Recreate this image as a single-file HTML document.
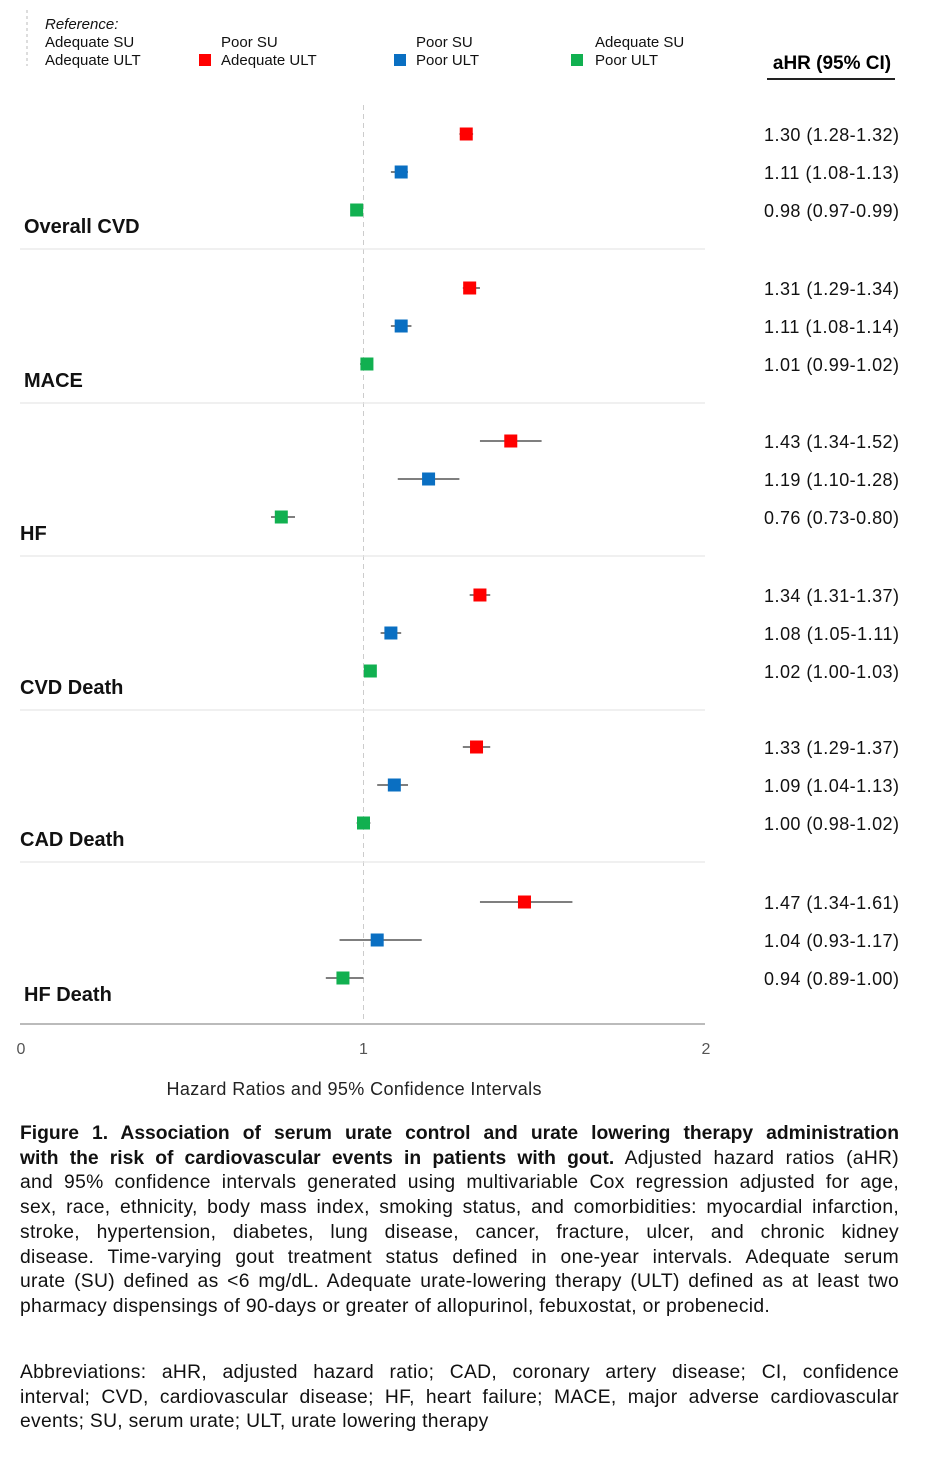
<!DOCTYPE html>
<html><head><meta charset="utf-8"><style>
body{margin:0;background:#fff;width:936px;height:1458px;overflow:hidden;font-family:"Liberation Sans",Arial,sans-serif;position:relative}
svg{position:absolute;left:0;top:0}
.cap{position:absolute;left:20px;width:879px;font-size:19.3px;line-height:24.7px;color:#111;margin:0;letter-spacing:0.3px}
.cap span{display:block;white-space:nowrap;text-align:justify;text-align-last:justify}
.cap span.last{text-align-last:left}
</style></head><body>
<svg id="chart" width="936" height="1110" font-family="Liberation Sans, Arial, sans-serif">
<g font-size="15" fill="#111">
<line x1="27" y1="10" x2="27" y2="66" stroke="#bbb" stroke-dasharray="3,3"/>
<text x="45" y="29" font-style="italic">Reference:</text>
<text x="45" y="47">Adequate SU</text><text x="45" y="65">Adequate ULT</text>
<text x="221" y="47">Poor SU</text><text x="221" y="65">Adequate ULT</text>
<rect x="199" y="54" width="12" height="12" fill="#ff0000"/>
<text x="416" y="47">Poor SU</text><text x="416" y="65">Poor ULT</text>
<rect x="394" y="54" width="12" height="12" fill="#0a6fc2"/>
<text x="595" y="47">Adequate SU</text><text x="595" y="65">Poor ULT</text>
<rect x="571" y="54" width="12" height="12" fill="#11b050"/>
</g>
<text x="832" y="69" text-anchor="middle" font-size="19" font-weight="bold">aHR (95% CI)</text>
<line x1="767" y1="79" x2="895" y2="79" stroke="#222" stroke-width="2"/>
<g id="plot"></g>
<text x="354" y="1095" text-anchor="middle" font-size="18" textLength="375" fill="#222">Hazard Ratios and 95% Confidence Intervals</text>
</svg>
<div class="cap" style="top:1122px">
<span><b style="letter-spacing:0">Figure 1. Association of serum urate control and urate lowering therapy administration</b></span>
<span><b style="letter-spacing:0">with the risk of cardiovascular events in patients with gout.</b> Adjusted hazard ratios (aHR)</span>
<span>and 95% confidence intervals generated using multivariable Cox regression adjusted for age,</span>
<span>sex, race, ethnicity, body mass index, smoking status, and comorbidities: myocardial infarction,</span>
<span>stroke, hypertension, diabetes, lung disease, cancer, fracture, ulcer, and chronic kidney</span>
<span>disease. Time-varying gout treatment status defined in one-year intervals. Adequate serum</span>
<span>urate (SU) defined as &lt;6 mg/dL. Adequate urate-lowering therapy (ULT) defined as at least two</span>
<span class="last">pharmacy dispensings of 90-days or greater of allopurinol, febuxostat, or probenecid.</span>
</div>
<div class="cap" style="top:1361px">
<span>Abbreviations: aHR, adjusted hazard ratio; CAD, coronary artery disease; CI, confidence</span>
<span>interval; CVD, cardiovascular disease; HF, heart failure; MACE, major adverse cardiovascular</span>
<span class="last">events; SU, serum urate; ULT, urate lowering therapy</span>
</div>
<script>
const outcomes=["Overall CVD","MACE","HF","CVD Death","CAD Death","HF Death"];
const seriesNames=["Poor SU / Adequate ULT","Poor SU / Poor ULT","Adequate SU / Poor ULT"];
const hr=[[1.30,1.11,0.98],[1.31,1.11,1.01],[1.43,1.19,0.76],[1.34,1.08,1.02],[1.33,1.09,1.00],[1.47,1.04,0.94]];
const lo=[[1.28,1.08,0.97],[1.29,1.08,0.99],[1.34,1.10,0.73],[1.31,1.05,1.00],[1.29,1.04,0.98],[1.34,0.93,0.89]];
const hi=[[1.32,1.13,0.99],[1.34,1.14,1.02],[1.52,1.28,0.80],[1.37,1.11,1.03],[1.37,1.13,1.02],[1.61,1.17,1.00]];
const xTicks=[0,1,2];
const colors=["#ff0000","#0a6fc2","#11b050"];
const NS="http://www.w3.org/2000/svg";
const g=document.getElementById('plot');
const x=v=>21+v*342.5;
const groupTop=[134,288,441,595,747,902];
const yRow=(i,j)=>groupTop[i]+j*38;
const labelX=[24,24,20,20,20,24];
function mk(t,a,p){const e=document.createElementNS(NS,t);for(const k in a)e.setAttribute(k,a[k]);(p||g).appendChild(e);return e;}
const ref=mk('line',{x1:x(1),y1:105,x2:x(1),y2:1024,stroke:'#ccc','stroke-dasharray':'5,4'});


outcomes.forEach((o,i)=>{
  const lab=mk('text',{x:labelX[i],y:yRow(i,2)+23,'font-size':20,'font-weight':'bold',fill:'#111'});
  lab.textContent=o;
  
  
  if(i<outcomes.length-1){const s=mk('line',{x1:20,x2:705,y1:yRow(i,2)+39,y2:yRow(i,2)+39,stroke:'#e6e6e6','stroke-width':1.2});
    
    }
  for(let j=0;j<3;j++){
    const y=yRow(i,j);
    const ci=mk('line',{x1:x(lo[i][j]),x2:x(hi[i][j]),y1:y,y2:y,stroke:'#555','stroke-width':1.5});
    
    
    const m=mk('rect',{x:x(hr[i][j])-6.5,y:y-6.5,width:13,height:13,fill:colors[j]});
    
    
    const t=mk('text',{x:764,y:y+7,'font-size':18,fill:'#111',textLength:135});
    t.textContent=hr[i][j].toFixed(2)+" ("+lo[i][j].toFixed(2)+"-"+hi[i][j].toFixed(2)+")";
    
    
  }
});
const ax=mk('line',{x1:20,x2:705,y1:1024,y2:1024,stroke:'#bbb','stroke-width':2});


xTicks.forEach(v=>{const t=mk('text',{x:x(v),y:1054,'text-anchor':'middle','font-size':16,fill:'#555'});t.textContent=v;
  
  });
</script>
</body></html>
